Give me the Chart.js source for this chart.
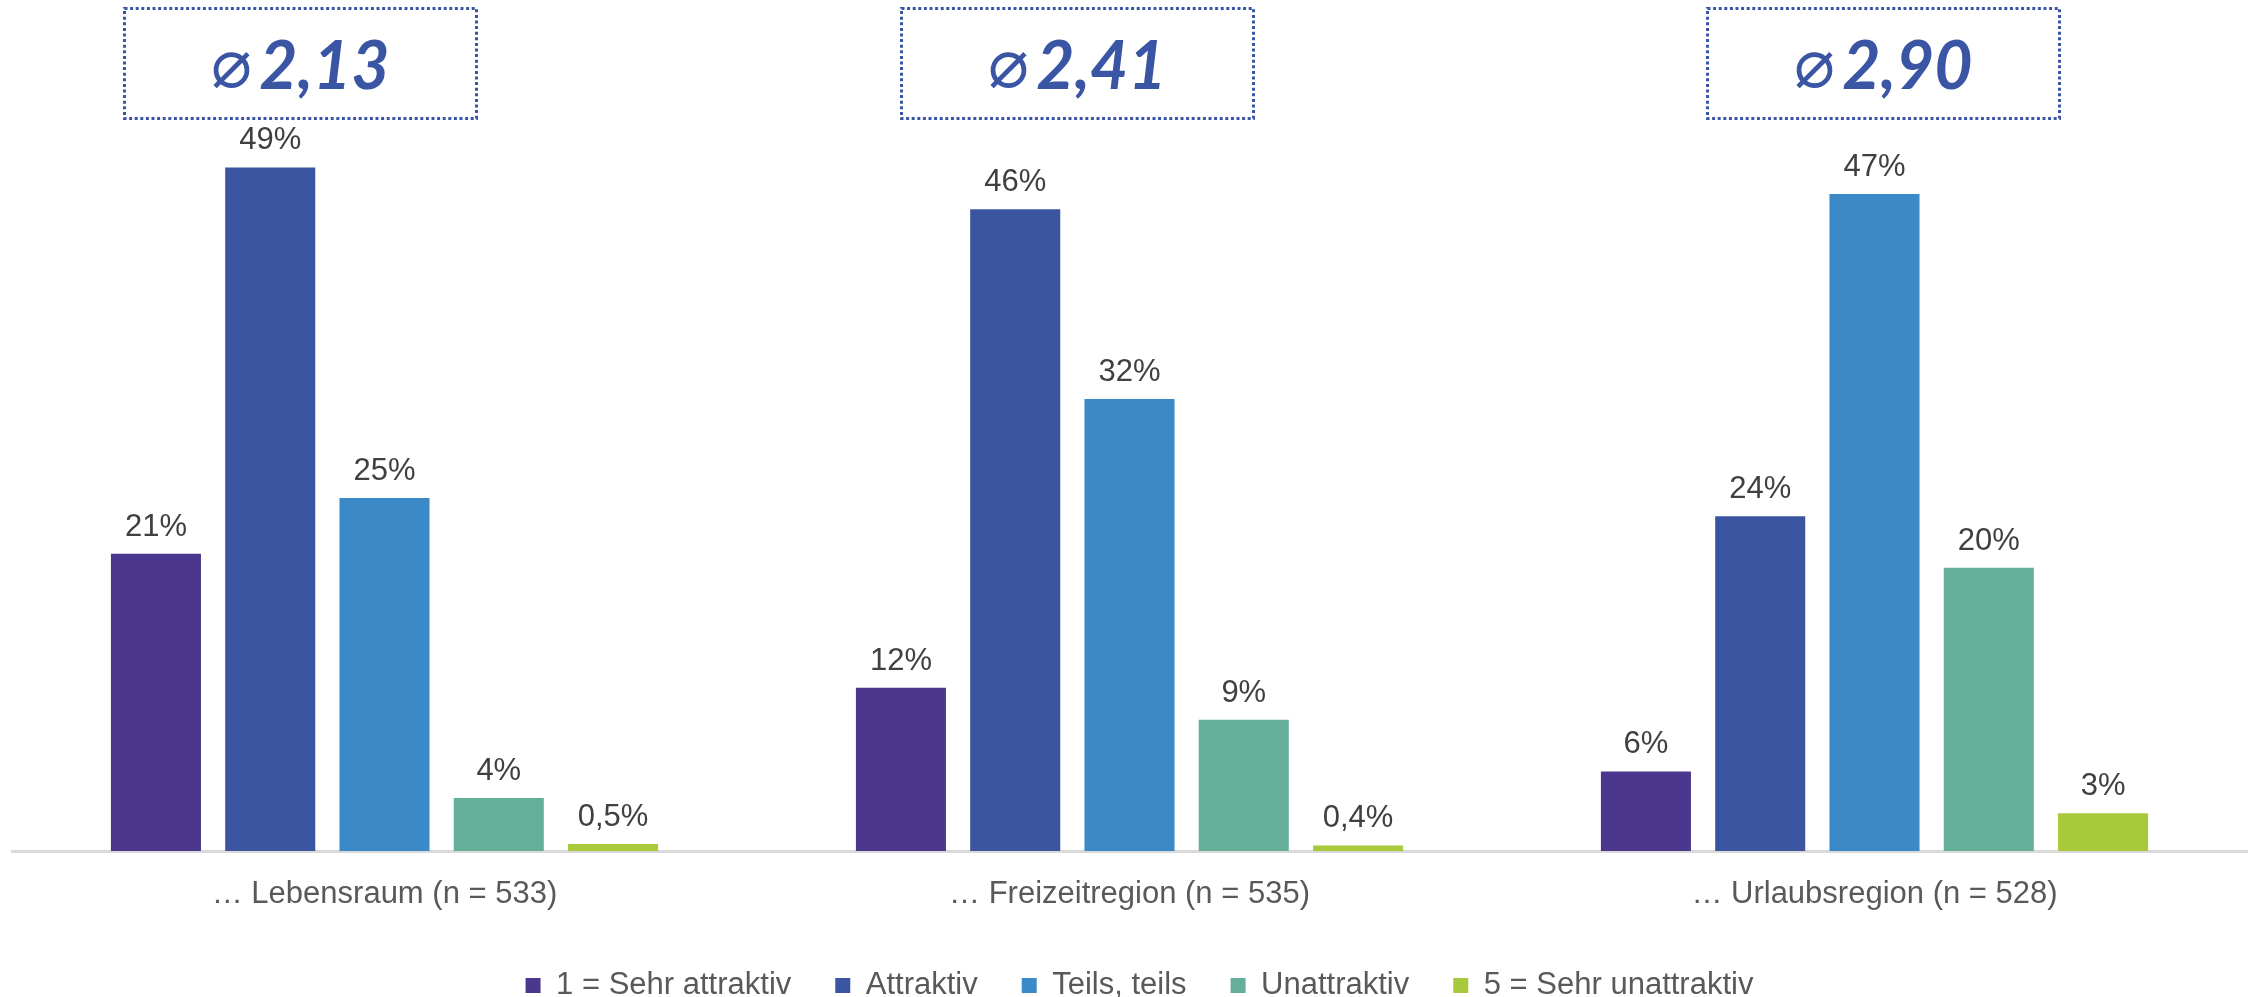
<!DOCTYPE html>
<html><head><meta charset="utf-8">
<script src="https://cdn.jsdelivr.net/npm/chart.js@4"></script>
<style>
html,body{margin:0;padding:0;overflow:hidden;background:#fff;width:2254px;height:997px}
#wrap{position:absolute;left:0;top:0;width:2254px;height:1008px}
</style>
</head><body><div id="wrap"><canvas id="c"></canvas></div>
<script>
// ---- data ----
const categories = ['… Lebensraum (n = 533)', '… Freizeitregion (n = 535)', '… Urlaubsregion (n = 528)'];
const seriesNames = ['1 = Sehr attraktiv', 'Attraktiv', 'Teils, teils', 'Unattraktiv', '5 = Sehr unattraktiv'];
const sehrAttraktiv = [21.3, 11.7, 5.7];
const attraktiv = [49, 46, 24];
const teilsTeils = [25.3, 32.4, 47.1];
const unattraktiv = [3.8, 9.4, 20.3];
const sehrUnattraktiv = [0.5, 0.4, 2.7];
const averagePrefix = '⌀';
const averages = ['2,13', '2,41', '2,90'];

// ---- styling ----
const seriesColors = ['#4B378D', '#3B55A0', '#3B89C7', '#65AF9A', '#A9C93C'];
const boxShift = [-85, -53, 8];
const FONT = '"Liberation Sans", Arial, sans-serif';

const seriesValues = [sehrAttraktiv, attraktiv, teilsTeils, unattraktiv, sehrUnattraktiv];

const fmt = v => (v < 1 ? v.toFixed(1).replace('.', ',') : String(Math.round(v))) + '%';

const valueLabels = {
  id: 'valueLabels',
  afterDatasetsDraw(chart) {
    const ctx = chart.ctx;
    ctx.save();
    ctx.font = '31px ' + FONT;
    ctx.fillStyle = '#404040';
    ctx.textAlign = 'center';
    ctx.textBaseline = 'alphabetic';
    chart.data.datasets.forEach((ds, di) => {
      const meta = chart.getDatasetMeta(di);
      meta.data.forEach((bar, i) => {
        ctx.fillText(fmt(ds.data[i]), bar.x, bar.y - 18);
      });
    });
    ctx.restore();
  }
};

const legendShift = {
  id: 'legendShift',
  afterLayout(chart) {
    const lg = chart.legend;
    if (!lg) return;
    lg.left += 10; lg.right += 10;
    lg.top += 3; lg.bottom += 3;
  }
};

const avgBoxes = {
  id: 'avgBoxes',
  afterDraw(chart) {
    const ctx = chart.ctx;
    const xs = chart.scales.x;
    ctx.save();
    averages.forEach((a, i) => {
      const cx = xs.getPixelForValue(i) + boxShift[i];
      const w = 352, top = 8, h = 110;
      ctx.strokeStyle = '#3A55A5';
      ctx.lineWidth = 3;
      ctx.setLineDash([3, 2.6]);
      ctx.strokeRect(Math.round(cx - w / 2) + 0.5, top + 0.5, w, h);
      ctx.setLineDash([]);
      ctx.fillStyle = '#3A55A3';
      ctx.textBaseline = 'alphabetic';
      const numFont = 'italic 700 66px Lato, "DejaVu Sans", sans-serif';
      const symFont = 'italic 400 68px "DejaVu Sans", sans-serif';
      ctx.font = numFont;
      const numW = ctx.measureText(a).width;
      ctx.font = symFont;
      const symW = ctx.measureText(averagePrefix).width;
      const gap = 9;
      const total = symW + gap + numW;
      const x = cx - total / 2;
      ctx.textAlign = 'left';
      ctx.fillText(averagePrefix, x, 87);
      ctx.font = numFont;
      ctx.fillText(a, x + symW + gap, 89);
    });
    ctx.restore();
  }
};

new Chart(document.getElementById('c'), {
  type: 'bar',
  data: {
    labels: categories,
    datasets: seriesNames.map((n, i) => ({
      label: n,
      data: seriesValues[i],
      backgroundColor: seriesColors[i],
      borderWidth: 0,
      categoryPercentage: 0.767,
      barPercentage: 0.788
    }))
  },
  options: {
    responsive: true,
    maintainAspectRatio: false,
    devicePixelRatio: 1,
    animation: false,
    layout: { padding: { top: 14, left: 12, right: 7, bottom: 0 } },
    plugins: {
      tooltip: { enabled: false },
      legend: {
        position: 'bottom',
        labels: {
          boxWidth: 15, boxHeight: 15, padding: 44,
          color: '#595959',
          font: { size: 31, family: FONT }
        }
      }
    },
    scales: {
      x: {
        afterFit(scale) { scale.height = 72; },
        grid: { display: true, drawOnChartArea: false, drawTicks: false, color: 'rgba(0,0,0,0)' },
        border: { display: true, color: '#D9D9D9', width: 3 },
        ticks: { color: '#595959', padding: 25, font: { size: 31, family: FONT } }
      },
      y: {
        display: false,
        min: 0, max: 60
      }
    }
  },
  plugins: [valueLabels, avgBoxes, legendShift]
});
</script>
</body></html>
